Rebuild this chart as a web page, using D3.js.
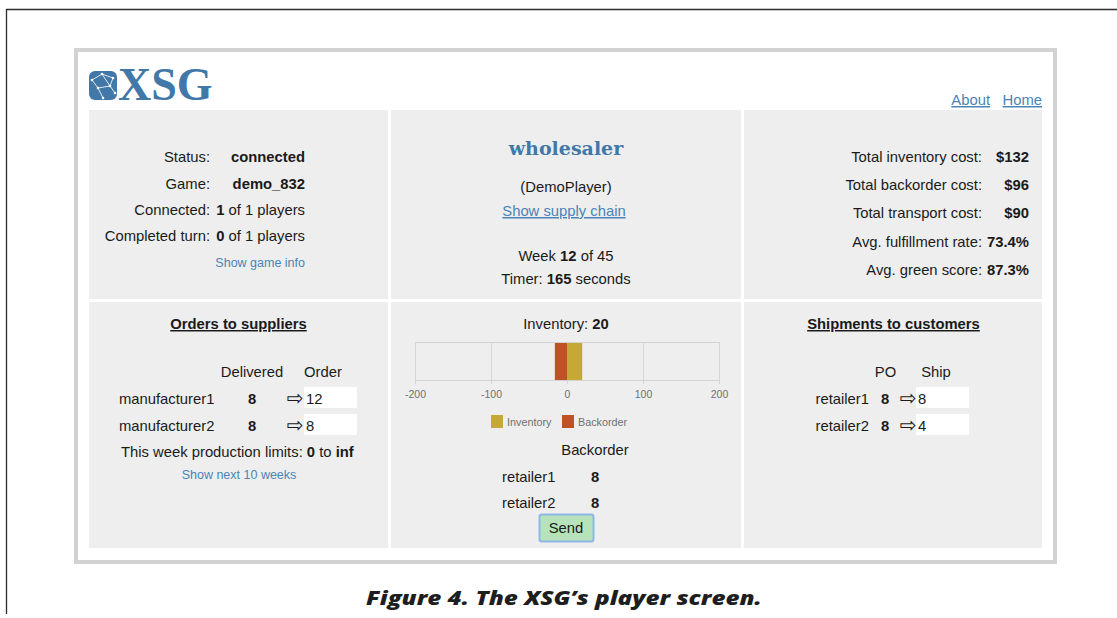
<!DOCTYPE html>
<html>
<head>
<meta charset="utf-8">
<script src="https://cdn.jsdelivr.net/npm/d3@7"></script>
<style>
  html, body { margin: 0; padding: 0; background: #fff; }
  svg { display: block; }
  text { font-family: "Liberation Sans", Arial, Helvetica, sans-serif; fill: #1a1a1a; }
</style>
</head>
<body>
<svg id="chart" width="1117" height="618"></svg>
<script>
// ---------------- data ----------------
const categories = ["Inventory", "Backorder"];
const inventoryValues = [20];
const backorderValues = [-16];
const xTicks = [-200, -100, 0, 100, 200];
const xDomain = [-200, 200];
const seriesColors = ["#c6a935", "#bf5127"];

const statusLabels = ["Status:", "Game:", "Connected:", "Completed turn:"];
const statusValues = [["connected"], ["demo_832"], ["1", " of 1 players"], ["0", " of 1 players"]];
const costLabels = ["Total inventory cost:", "Total backorder cost:", "Total transport cost:", "Avg. fulfillment rate:", "Avg. green score:"];
const costValues = ["$132", "$96", "$90", "73.4%", "87.3%"];
const suppliers = ["manufacturer1", "manufacturer2"];
const supplierDelivered = [8, 8];
const supplierOrder = [12, 8];
const customers = ["retailer1", "retailer2"];
const customerPO = [8, 8];
const customerShip = [8, 4];
const customerBackorder = [8, 8];

// ---------------- layout ----------------
const svg = d3.select("#chart");
const blue = "#4a84b6";
const logoBlue = "#4178a8";
const FS = 14.8;

// outer figure lines
svg.append("line").attr("x1", 6).attr("y1", 9.5).attr("x2", 1117).attr("y2", 9.5).attr("stroke", "#2b2b2b").attr("stroke-width", 1.3);
svg.append("line").attr("x1", 6.5).attr("y1", 9).attr("x2", 6.5).attr("y2", 614).attr("stroke", "#2b2b2b").attr("stroke-width", 1.3);

// gray frame
svg.append("rect").attr("x", 76).attr("y", 50).attr("width", 979).attr("height", 512)
  .attr("fill", "#fff").attr("stroke", "#d2d2d2").attr("stroke-width", 4);

// panels
const colX = [89, 391, 744], colW = [299, 350, 298];
const rowY = [110, 302], rowH = [189, 246];
rowY.forEach((y, ri) => colX.forEach((x, ci) => {
  svg.append("rect").attr("x", x).attr("y", y).attr("width", colW[ci]).attr("height", rowH[ri]).attr("fill", "#eeeeee");
}));

function txt(x, y, parts, opts = {}) {
  const t = svg.append("text").attr("x", x).attr("y", y)
    .attr("font-size", opts.size || FS)
    .attr("text-anchor", opts.anchor || "start");
  if (opts.fill) t.style("fill", opts.fill);
  if (opts.family) t.style("font-family", opts.family);
  if (opts.underline) t.attr("text-decoration", "underline");
  (Array.isArray(parts) ? parts : [[parts, false]]).forEach(p => {
    const s = t.append("tspan").text(p[0]);
    if (p[1]) s.attr("font-weight", "bold");
  });
  return t;
}

// ---------------- logo ----------------
const logo = svg.append("g").attr("transform", "translate(89,71)");
logo.append("rect").attr("width", 28).attr("height", 29).attr("rx", 6).attr("fill", logoBlue);
const pts = [[3, 9], [13, 3], [24, 7], [9, 17], [21, 15], [14, 27], [26, 22]];
[[0, 1], [1, 2], [0, 3], [1, 4], [3, 4], [3, 5], [4, 6], [2, 4]].forEach(e => {
  logo.append("line").attr("x1", pts[e[0]][0]).attr("y1", pts[e[0]][1]).attr("x2", pts[e[1]][0]).attr("y2", pts[e[1]][1])
    .attr("stroke", "#dfe9f3").attr("stroke-width", 1);
});
pts.forEach(p => logo.append("circle").attr("cx", p[0]).attr("cy", p[1]).attr("r", 1.3).attr("fill", "#fff"));
txt(118, 100, [["XSG", true]], { size: 46, fill: logoBlue, family: "'Liberation Serif', 'Times New Roman', serif" });

// top links
txt(990, 105, "About", { anchor: "end", fill: blue, underline: true });
txt(1042, 105, "Home", { anchor: "end", fill: blue, underline: true });

// ---------------- top-left panel ----------------
const statusY = [162, 189, 215, 241];
statusLabels.forEach((l, i) => {
  txt(210, statusY[i], l, { anchor: "end" });
  txt(305, statusY[i], statusValues[i].map((v, j) => [v, j === 0]), { anchor: "end" });
});
txt(305, 267, "Show game info", { anchor: "end", size: 12.5, fill: blue });

// ---------------- top-middle panel ----------------
txt(566, 155, [["wholesaler", true]], { anchor: "middle", size: 19, fill: logoBlue, family: "'DejaVu Serif', Georgia, serif" });
txt(566, 192, "(DemoPlayer)", { anchor: "middle" });
txt(564, 216, "Show supply chain", { anchor: "middle", fill: blue, underline: true });
txt(566, 261, [["Week ", false], ["12", true], [" of 45", false]], { anchor: "middle" });
txt(566, 284, [["Timer: ", false], ["165", true], [" seconds", false]], { anchor: "middle" });

// ---------------- top-right panel ----------------
const costY = [162, 190, 218, 247, 275];
costLabels.forEach((l, i) => {
  txt(982, costY[i], l, { anchor: "end" });
  txt(1029, costY[i], [[costValues[i], true]], { anchor: "end" });
});

// ---------------- bottom-left panel ----------------
txt(238.5, 329, [["Orders to suppliers", true]], { anchor: "middle", underline: true });
txt(252, 377, "Delivered", { anchor: "middle" });
txt(323, 377, "Order", { anchor: "middle" });
const supY = [404, 431];
suppliers.forEach((s, i) => {
  txt(119, supY[i], s);
  txt(252, supY[i], [[String(supplierDelivered[i]), true]], { anchor: "middle" });
  txt(295, supY[i] + 1, "\u21E8", { anchor: "middle", size: 20, family: "'DejaVu Sans', sans-serif" });
  svg.append("rect").attr("x", 304).attr("y", supY[i] - 17).attr("width", 53).attr("height", 21).attr("fill", "#fff");
  txt(306, supY[i], String(supplierOrder[i]));
});
txt(121, 457, [["This week production limits: ", false], ["0", true], [" to ", false], ["inf", true]]);
txt(239, 479, "Show next 10 weeks", { anchor: "middle", size: 12.5, fill: blue });

// ---------------- bottom-right panel ----------------
txt(893.5, 329, [["Shipments to customers", true]], { anchor: "middle", underline: true });
txt(885.5, 377, "PO", { anchor: "middle" });
txt(936, 377, "Ship", { anchor: "middle" });
customers.forEach((c, i) => {
  txt(869, supY[i], c, { anchor: "end" });
  txt(885, supY[i], [[String(customerPO[i]), true]], { anchor: "middle" });
  txt(908, supY[i] + 1, "\u21E8", { anchor: "middle", size: 20, family: "'DejaVu Sans', sans-serif" });
  svg.append("rect").attr("x", 916).attr("y", supY[i] - 17).attr("width", 53).attr("height", 21).attr("fill", "#fff");
  txt(918, supY[i], String(customerShip[i]));
});

// ---------------- bottom-middle: inventory chart ----------------
txt(566, 329, [["Inventory: ", false], [String(inventoryValues[0]), true]], { anchor: "middle" });

const x = d3.scaleLinear().domain(xDomain).range([415, 719]);
const plotTop = 342, plotBottom = 380;
const g = svg.append("g");
// grid
g.selectAll(".grid").data(xTicks).join("line")
  .attr("x1", d => x(d) + 0.5).attr("x2", d => x(d) + 0.5)
  .attr("y1", plotTop).attr("y2", plotBottom + 4)
  .attr("stroke", "#d6d6d6").attr("stroke-width", 1);
g.append("line").attr("x1", 415).attr("x2", 719).attr("y1", plotTop + 0.5).attr("y2", plotTop + 0.5).attr("stroke", "#d2d2d2");
g.append("line").attr("x1", 415).attr("x2", 719).attr("y1", plotBottom + 0.5).attr("y2", plotBottom + 0.5).attr("stroke", "#d2d2d2");
// bars
const barData = [
  { key: categories[0], v: inventoryValues[0], c: seriesColors[0] },
  { key: categories[1], v: backorderValues[0], c: seriesColors[1] }
];
g.selectAll(".bar").data(barData).join("rect")
  .attr("x", d => Math.min(x(0), x(d.v)))
  .attr("width", d => Math.abs(x(d.v) - x(0)))
  .attr("y", plotTop + 1).attr("height", plotBottom - plotTop - 1)
  .attr("fill", d => d.c);
// axis labels
const axis = d3.axisBottom(x).tickValues(xTicks).tickSize(0).tickPadding(0).tickFormat(d => String(d));
const ag = g.append("g").attr("transform", `translate(0,${plotBottom + 11})`).call(axis);
ag.select(".domain").remove();
ag.selectAll("text").attr("font-size", 10.5).style("fill", "#707070").attr("dy", "0.71em")
  .style("font-family", "'Liberation Sans', Arial, sans-serif");

// legend
const legX = [491, 562];
barData.forEach((d, i) => {
  svg.append("rect").attr("x", legX[i]).attr("y", 415).attr("width", 12).attr("height", 13).attr("fill", d.c);
  txt(legX[i] + 16, 425.5, d.key, { size: 10.8, fill: "#707070" });
});

// backorder table
txt(595, 455, "Backorder", { anchor: "middle" });
const boY = [482, 508];
customers.forEach((c, i) => {
  txt(502, boY[i], c);
  txt(595, boY[i], [[String(customerBackorder[i]), true]], { anchor: "middle" });
});

// send button
svg.append("rect").attr("x", 539.5).attr("y", 514.5).attr("width", 54).attr("height", 27).attr("rx", 2)
  .attr("fill", "#b7e2ba").attr("stroke", "#8db7e8").attr("stroke-width", 2);
txt(566, 533, "Send", { anchor: "middle" });

// caption
txt(564, 605, "Figure 4. The XSG\u2019s player screen.", { anchor: "middle", size: 20, fill: "#1e1e1e", family: "'Open Sans', 'DejaVu Sans', sans-serif" })
  .attr("font-weight", "800").attr("font-style", "italic")
  .attr("textLength", 396).attr("lengthAdjust", "spacingAndGlyphs");
</script>
</body>
</html>
